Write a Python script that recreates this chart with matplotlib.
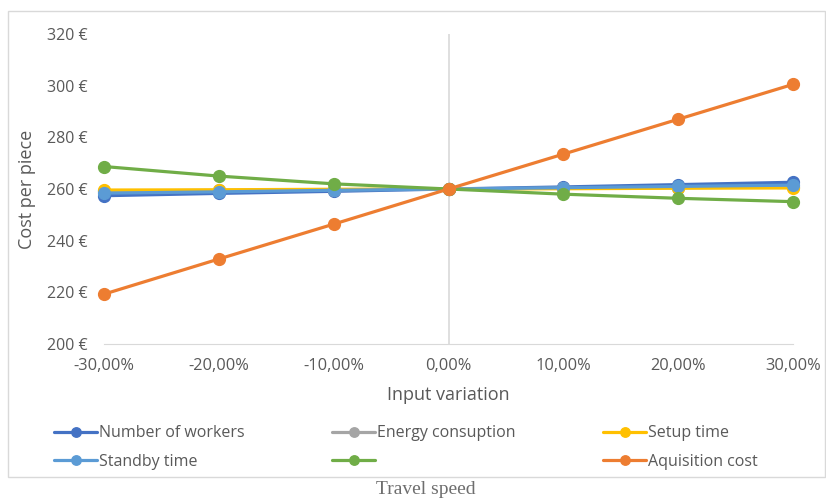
import matplotlib
matplotlib.use("Agg")
import matplotlib.pyplot as plt
from matplotlib.patches import Rectangle
from matplotlib.ticker import FuncFormatter, MultipleLocator

# ---------------------------------------------------------------- data
variation = [-30, -20, -10, 0, 10, 20, 30]   # input variation, %

workers     = [257.4, 258.3, 259.1, 260.0, 260.8, 261.7, 262.6]
energy      = [259.2, 259.5, 259.7, 260.0, 260.3, 260.5, 260.8]
setup_time  = [259.6, 259.7, 259.9, 260.0, 260.1, 260.3, 260.4]
standby     = [258.4, 258.9, 259.5, 260.0, 260.5, 261.0, 261.5]
travel      = [268.7, 265.0, 262.0, 260.0, 258.0, 256.4, 255.1]
acquisition = [219.3, 232.9, 246.4, 260.0, 273.5, 287.0, 300.5]

series = [
    ("Number of workers", workers, "#4472C4"),
    ("Energy consuption", energy, "#A5A5A5"),
    ("Setup time", setup_time, "#FFC000"),
    ("Standby time", standby, "#5B9BD5"),
    ("", travel, "#70AD47"),
    ("Aquisition cost", acquisition, "#ED7D31"),
]

# ---------------------------------------------------------------- style
TXT = "#595959"
LINE = "#D9D9D9"
plt.rcParams.update({
    "font.family": ["Open Sans", "DejaVu Sans"],
    "font.size": 11.5,
    "text.color": TXT,
    "axes.labelcolor": TXT,
    "xtick.color": TXT,
    "ytick.color": TXT,
})

W, H = 826, 499
fig = plt.figure(figsize=(W / 100, H / 100), dpi=100)
ax = fig.add_axes([104 / W, 1 - 344 / H, (793 - 104) / W, (344 - 34) / H])

# chart frame
fig.patches.append(Rectangle((8 / W, 1 - 477 / H), 817 / W, 466 / H,
                             transform=fig.transFigure, fill=False,
                             edgecolor=LINE, linewidth=1.0))

handles = []
for label, vals, col in series:
    ln, = ax.plot(variation, vals, color=col, lw=2.3, marker="o", ms=8.5,
                  label=label, solid_capstyle="round", clip_on=False)
    handles.append(ln)

ax.set_xlim(-30, 30)
ax.set_ylim(200, 320)
ax.yaxis.set_major_locator(MultipleLocator(20))
ax.xaxis.set_major_locator(MultipleLocator(10))
ax.yaxis.set_major_formatter(FuncFormatter(lambda v, p: f"{v:.0f} €"))
ax.xaxis.set_major_formatter(
    FuncFormatter(lambda v, p: f"{v:.2f}".replace(".", ",") + "%"))

for s in ("top", "right", "left"):
    ax.spines[s].set_visible(False)
ax.spines["bottom"].set_color(LINE)
ax.axvline(0, color=LINE, lw=1.2, zorder=1)
ax.tick_params(axis="y", length=0, pad=12, labelsize=11.5)
ax.tick_params(axis="x", length=0, pad=10, labelsize=11.8)

ax.set_xlabel("Input variation", fontsize=13, labelpad=9)
ax.set_ylabel("Cost per piece", fontsize=13, labelpad=8)

# legend filled row by row (3 columns, 2 rows)
order = [0, 3, 1, 4, 2, 5]
fig.legend([handles[i] for i in order], [series[i][0] for i in order],
           loc="center left", bbox_to_anchor=(46 / W, 1 - 447.5 / H),
           ncol=3, frameon=False, fontsize=11.5, handlelength=2.7,
           handletextpad=0.1, columnspacing=5.5, labelspacing=0.8,
           borderpad=0, markerscale=0.8)

fig.text(426 / W, 1 - 490 / H, "Travel speed", ha="center", va="center",
         family=["Liberation Serif", "DejaVu Serif"], fontsize=14,
         color="#6E6E6E")

fig.savefig("out.png", dpi=100)
